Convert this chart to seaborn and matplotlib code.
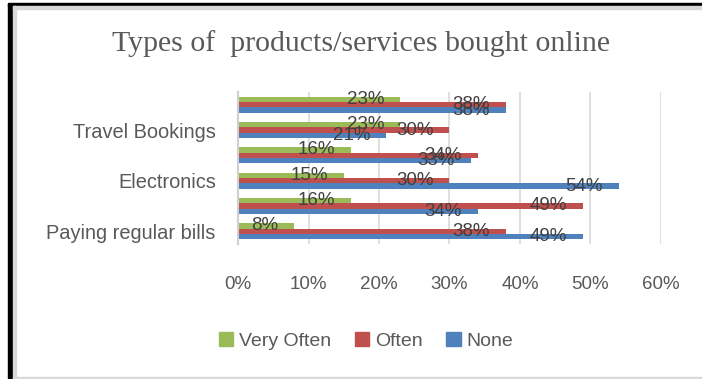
import matplotlib
matplotlib.use("Agg")
import matplotlib.pyplot as plt
import matplotlib.patches as mpatches
from matplotlib.ticker import FuncFormatter
import seaborn as sns
import pandas as pd

# ---- data (top to bottom as displayed) ----
categories = ["Category 6", "Travel Bookings", "Category 4",
              "Electronics", "Category 2", "Paying regular bills"]
shown_labels = ["", "Travel Bookings", "", "Electronics", "", "Paying regular bills"]
series = ["Very Often", "Often", "None"]
very_often = [23, 23, 16, 15, 16, 8]
often = [38, 30, 34, 30, 49, 38]
none = [38, 21, 33, 54, 34, 49]
colors = ["#9bbb59", "#c0504d", "#4f81bd"]
x_ticks = [0, 10, 20, 30, 40, 50, 60]
title = "Types of  products/services bought online"

rows = []
for s, vals in zip(series, [very_often, often, none]):
    for c, v in zip(categories, vals):
        rows.append({"category": c, "series": s, "value": v})
df = pd.DataFrame(rows)

sns.set_theme(style="white")
plt.rcParams["font.family"] = ["Liberation Sans", "DejaVu Sans"]

fig = plt.figure(figsize=(7.02, 3.79), dpi=100)
ax = fig.add_axes([238 / 702, 1 - 244 / 379, (661 - 238) / 702, (244 - 92) / 379])

sns.barplot(data=df, y="category", x="value", hue="series",
            order=categories, hue_order=series, palette=colors,
            orient="h", width=0.64, saturation=1, ax=ax, legend=False,
            edgecolor="none")

ax.set_xlim(0, 60)
ax.set_xticks(x_ticks)
ax.xaxis.set_major_formatter(FuncFormatter(lambda v, p: f"{v:.0f}%"))
ax.set_yticks(range(len(categories)))
ax.set_yticklabels(shown_labels)
ax.set_xlabel("")
ax.set_ylabel("")
ax.grid(axis="x", color="#d9d9d9", linewidth=1.2)
ax.set_axisbelow(True)
for side in ["top", "right", "bottom"]:
    ax.spines[side].set_visible(False)
ax.spines["left"].set_color("#d0d0d0")
ax.spines["left"].set_linewidth(1.5)
ax.tick_params(axis="x", length=0, pad=23, labelsize=13.5, labelcolor="#595959")
ax.tick_params(axis="y", length=0, pad=16, labelsize=14.4, labelcolor="#595959")

# data labels
for cont in ax.containers:
    for bar in cont:
        w = bar.get_width()
        yc = bar.get_y() + bar.get_height() / 2
        ax.annotate(f"{w:.0f}%", xy=(w, yc), xytext=(-11.5, 0),
                    textcoords="offset points", ha="right", va="center",
                    fontsize=13.5, color="#404040")

# title
fig.text(361 / 702, 1 - 44 / 379, title, ha="center", va="center",
         fontsize=21.5, color="#595959", family=["Liberation Serif", "DejaVu Serif"])

# legend
handles = [mpatches.Patch(color=c, label=s) for c, s in zip(colors, series)]
fig.legend(handles=handles, loc="center", bbox_to_anchor=(366 / 702, 1 - 341 / 379),
           ncol=3, frameon=False, fontsize=14, handlelength=0.75, handleheight=0.75,
           handletextpad=0.3, columnspacing=1.2, labelcolor="#595959")

# frame decoration
fig.patches.append(mpatches.Rectangle((8 / 702, 0), 5 / 702, 1 - 4 / 379,
                                      transform=fig.transFigure, color="black", zorder=5))
fig.patches.append(mpatches.Rectangle((8 / 702, 1 - 6 / 379), 1, 2.5 / 379,
                                      transform=fig.transFigure, color="black", zorder=5))
fig.patches.append(mpatches.Rectangle((13 / 702, 0), 2.5 / 702, 1 - 6 / 379,
                                      transform=fig.transFigure, color="#d9d9d9", zorder=5))
fig.patches.append(mpatches.Rectangle((13 / 702, 1 - 8.5 / 379), 1, 2.5 / 379,
                                      transform=fig.transFigure, color="#d9d9d9", zorder=5))
fig.patches.append(mpatches.Rectangle((13 / 702, 1 / 379), 1, 1.5 / 379,
                                      transform=fig.transFigure, color="#d9d9d9", zorder=5))

fig.savefig("out.png", dpi=100)
